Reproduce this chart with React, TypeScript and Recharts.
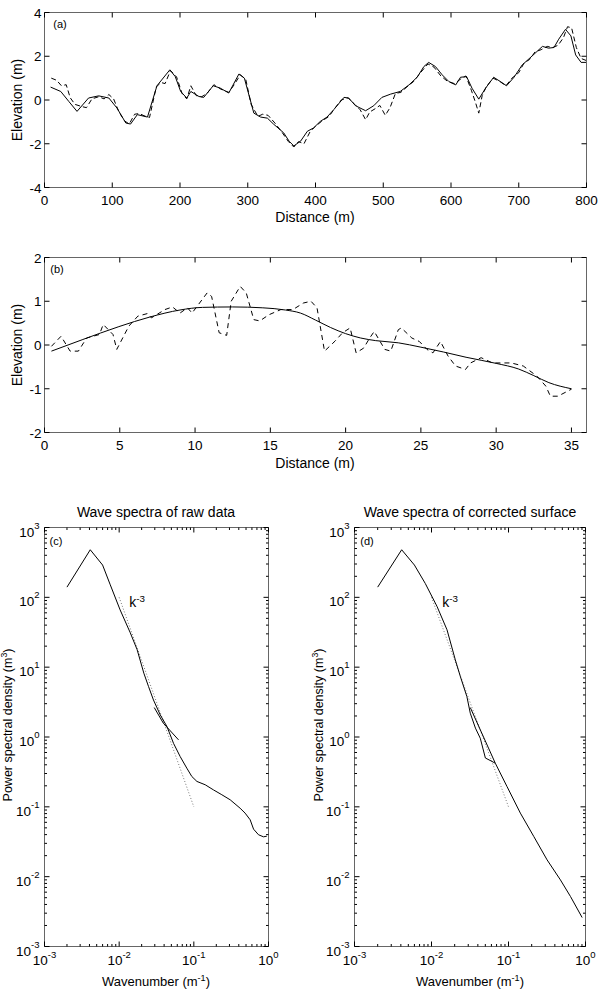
import React from "react";
import { LineChart, Line, XAxis, YAxis } from "recharts";

// (a) 800 m profile: solid = corrected surface, dashed = raw record
const longDist = [9, 24, 36, 48, 65, 80, 95, 107, 120, 127, 137, 152, 166, 185, 193, 201, 210, 216, 228, 235, 249, 259, 272, 287, 295, 309, 319, 329, 338, 353, 361, 368, 378, 388, 397, 407, 417, 427, 442, 449, 459, 474, 486, 498, 511, 525, 538, 550, 560, 567, 577, 587, 597, 607, 614, 623, 631, 641, 651, 663, 673, 682, 693, 705, 720, 735, 744, 752, 759, 769, 777, 784, 792, 800];
const longElev = [0.59, 0.39, -0.07, -0.52, 0.09, 0.19, 0.09, -0.37, -1.05, -1.1, -0.67, -0.78, 0.65, 1.38, 1.07, 0.39, 0.09, 0.39, 0.16, 0.12, 0.65, 0.55, 0.32, 1.19, 1.0, -0.6, -0.78, -0.83, -1.1, -1.5, -1.88, -2.1, -1.88, -1.43, -1.28, -0.98, -0.78, -0.44, 0.12, 0.09, -0.26, -0.49, -0.26, 0.12, 0.27, 0.39, 0.69, 1.04, 1.53, 1.72, 1.53, 1.15, 0.84, 0.69, 1.04, 1.07, 0.54, 0.04, 0.54, 1.04, 0.84, 0.65, 1.04, 1.6, 2.02, 2.45, 2.37, 2.4, 2.78, 3.23, 2.93, 2.06, 1.72, 1.72];
const longRawDist = [10, 18, 25, 32, 38, 45, 55, 62, 70, 80, 88, 95, 102, 110, 118, 125, 133, 140, 147, 155, 165, 172, 178, 186, 195, 203, 210, 216, 224, 232, 240, 250, 260, 272, 280, 289, 297, 305, 315, 322, 330, 340, 350, 360, 368, 375, 383, 392, 400, 410, 420, 428, 438, 448, 458, 466, 474, 480, 488, 495, 503, 510, 518, 526, 535, 545, 555, 566, 575, 585, 595, 605, 614, 622, 630, 636, 641, 646, 652, 662, 672, 681, 690, 700, 708, 716, 724, 733, 742, 750, 758, 766, 772, 778, 785, 792, 800];
const longRawElev = [1.0, 0.9, 0.65, 0.7, 0.1, -0.2, -0.3, -0.35, 0.05, 0.15, 0.05, 0.25, 0.05, -0.55, -0.95, -1.1, -0.65, -0.62, -0.72, -0.8, 0.6, 0.8, 0.75, 1.35, 1.05, 0.3, 0.05, 0.65, 0.2, 0.15, 0.3, 0.7, 0.5, 0.35, 0.7, 1.15, 0.95, -0.2, -0.75, -0.65, -0.7, -1.05, -1.45, -1.9, -2.15, -1.9, -2.0, -1.45, -1.2, -0.95, -0.75, -0.4, 0.0, 0.1, -0.2, -0.45, -0.9, -0.55, -0.4, -0.25, -0.7, -0.35, 0.3, 0.35, 0.6, 0.85, 1.25, 1.65, 1.5, 1.1, 0.85, 0.75, 0.95, 1.1, 0.45, -0.1, -0.6, 0.2, 0.6, 1.0, 0.85, 0.65, 1.0, 1.25, 1.7, 1.85, 2.2, 2.3, 2.45, 2.4, 2.5, 2.85, 3.35, 3.3, 2.4, 1.9, 1.8];

// (b) 35 m profile
const shortDist = [0.46, 2.5, 4.94, 7, 9, 10.5, 12.5, 14.5, 16, 17, 18, 19, 20, 21, 22, 23.5, 25, 26.5, 28, 30, 31.5, 32.5, 33.5, 35];
const shortElev = [-0.14, 0.12, 0.42, 0.64, 0.8, 0.86, 0.87, 0.85, 0.8, 0.73, 0.57, 0.4, 0.26, 0.16, 0.1, 0.05, -0.05, -0.16, -0.28, -0.42, -0.55, -0.7, -0.86, -1.0];
const shortRawDist = [0.46, 1.1, 1.7, 2.25, 2.8, 3.65, 3.9, 4.55, 4.8, 5.6, 6.2, 6.85, 7.1, 8.0, 8.5, 9.0, 9.5, 9.8, 10.3, 10.8, 11.1, 11.6, 12.1, 12.4, 13.0, 13.4, 13.9, 14.3, 14.9, 15.7, 16.5, 17.2, 17.7, 18.1, 18.6, 19.3, 19.8, 20.3, 20.7, 21.2, 21.6, 21.9, 22.6, 23.0, 23.5, 23.7, 24.4, 24.9, 25.4, 25.8, 26.3, 26.8, 27.3, 27.96, 28.3, 29.0, 29.75, 31.0, 31.8, 32.7, 33.3, 33.6, 34.1, 35.0];
const shortRawElev = [-0.03, 0.2, -0.14, -0.14, 0.16, 0.24, 0.47, 0.24, -0.1, 0.43, 0.66, 0.72, 0.62, 0.81, 0.87, 0.73, 0.85, 0.73, 0.96, 1.19, 1.11, 0.28, 0.22, 1.0, 1.34, 1.19, 0.58, 0.55, 0.69, 0.81, 0.81, 0.96, 1.0, 0.85, -0.14, 0.09, 0.28, 0.39, -0.18, -0.07, 0.16, 0.31, -0.1, -0.14, 0.35, 0.39, 0.16, 0.08, -0.1, -0.18, 0.08, -0.25, -0.48, -0.56, -0.41, -0.29, -0.41, -0.41, -0.48, -0.71, -0.94, -1.17, -1.17, -1.01];

// (c) spectrum of raw data
const rawK = [0.002, 0.0041, 0.006, 0.0076, 0.0103, 0.0141, 0.0174, 0.0214, 0.0247, 0.0288, 0.0355, 0.0437, 0.0535, 0.0656, 0.0805, 0.094, 0.11, 0.142, 0.183, 0.237, 0.307, 0.417, 0.486, 0.568, 0.631, 0.735, 0.857, 0.95];
const rawPsd = [140, 480, 290, 151, 66, 31, 17.8, 8.2, 5.3, 3.39, 2.07, 1.41, 0.81, 0.525, 0.358, 0.272, 0.231, 0.207, 0.175, 0.149, 0.126, 0.0955, 0.0813, 0.0652, 0.0479, 0.0398, 0.0372, 0.038];
const rawBranchK = [0.0295, 0.039, 0.0624];
const rawBranchPsd = [2.64, 1.58, 0.91];

// (d) spectrum of corrected surface
const corrK = [0.002, 0.0041, 0.006, 0.0083, 0.0118, 0.0159, 0.0204, 0.0237, 0.0288, 0.0319, 0.0372, 0.043, 0.0501, 0.0611, 0.0675, 0.0957, 0.1426, 0.213, 0.317, 0.472, 0.638, 0.904];
const corrPsd = [140, 480, 290, 158, 74, 34.3, 12.7, 7.35, 3.8, 2.19, 1.34, 0.96, 0.5, 0.447, 0.42, 0.195, 0.0813, 0.0376, 0.0174, 0.009, 0.0052, 0.0026];
const corrBranchK = [0.0319, 0.0675];
const corrBranchPsd = [2.64, 0.42];

// k^-3 reference
const slopeK = [0.01, 0.1];
const slopePsd = [100, 0.1];

const longDistTicks = [0, 100, 200, 300, 400, 500, 600, 700, 800];
const longElevTicks = [-4, -2, 0, 2, 4];
const shortDistTicks = [0, 5, 10, 15, 20, 25, 30, 35];
const shortElevTicks = [-2, -1, 0, 1, 2];
const kDecades = [0.001, 0.01, 0.1, 1];
const psdDecades = [0.001, 0.01, 0.1, 1, 10, 100, 1000];

const FONT = '"Liberation Sans", Arial, Helvetica, sans-serif';
const BOX = "#666";

const pts = (xs: number[], ys: number[]) => xs.map((x, i) => ({ x, y: ys[i] }));

const withMinor = (decades: number[]) =>
  decades.flatMap((d, i) =>
    i === decades.length - 1 ? [d] : [1, 2, 3, 4, 5, 6, 7, 8, 9].map((m) => m * d)
  );

const isDecade = (v: number) => {
  const e = Math.log10(v);
  return Math.abs(e - Math.round(e)) < 1e-6;
};

type Side = "bottom" | "left" | "top" | "right";

function tickFor(side: Side, log: boolean, labels: boolean) {
  return (props: any) => {
    const { x, y, payload } = props;
    const v = payload.value as number;
    const major = !log || isDecade(v);
    const len = major ? 5 : 2.5;
    let x2 = x;
    let y2 = y;
    if (side === "bottom") y2 = y - len;
    if (side === "top") y2 = y + len;
    if (side === "left") x2 = x + len;
    if (side === "right") x2 = x - len;

    let text: React.ReactNode = null;
    if (labels && major) {
      const style = { fontFamily: FONT, fontSize: 13.5, fill: "#000" };
      if (log) {
        const exp = Math.round(Math.log10(v));
        text =
          side === "bottom" ? (
            <text x={x} y={y + 18} textAnchor="middle" style={style}>
              10<tspan dy={-7} fontSize={9.5}>{exp}</tspan>
            </text>
          ) : (
            <text x={x - 5} y={y + 9} textAnchor="end" style={style}>
              10<tspan dy={-8} fontSize={9.5}>{exp}</tspan>
            </text>
          );
      } else {
        text =
          side === "bottom" ? (
            <text x={x} y={y + 17} textAnchor="middle" style={style}>{v}</text>
          ) : (
            <text x={x - 3} y={y + 5} textAnchor="end" style={style}>{v}</text>
          );
      }
    }
    return (
      <g>
        <line x1={x} y1={y} x2={x2} y2={y2} stroke="#000" strokeWidth={1} />
        {text}
      </g>
    );
  };
}

type Series = {
  data: { x: number; y: number }[];
  stroke?: string;
  dash?: string;
  curve?: "linear" | "monotone";
};

type PanelProps = {
  left: number;
  top: number;
  width: number;
  height: number;
  // plot-area box inside the chart
  margin: { top: number; right: number; bottom: number; left: number };
  xDomain: [number, number];
  yDomain: [number, number];
  xTicks: number[];
  yTicks: number[];
  log?: boolean;
  series: Series[];
};

function Panel(p: PanelProps) {
  const log = !!p.log;
  const scale = log ? "log" : "linear";
  const common = {
    type: "number" as const,
    scale: scale as any,
    allowDataOverflow: true,
    interval: 0 as const,
    tickSize: 0,
    tickMargin: 0,
    tickLine: false,
    axisLine: { stroke: BOX },
  };
  // every axis takes 1px, so the margins are shrunk by that amount
  const m = {
    top: p.margin.top - 1,
    right: p.margin.right - 1,
    bottom: p.margin.bottom - 1,
    left: p.margin.left - 1,
  };
  return (
    <div style={{ position: "absolute", left: p.left, top: p.top }}>
      <LineChart width={p.width} height={p.height} margin={m}>
        <XAxis xAxisId="b" dataKey="x" domain={p.xDomain} ticks={p.xTicks} height={1} {...common} tick={tickFor("bottom", log, true)} />
        <XAxis xAxisId="t" orientation="top" dataKey="x" domain={p.xDomain} ticks={p.xTicks} height={1} {...common} tick={tickFor("top", log, false)} />
        <YAxis yAxisId="l" domain={p.yDomain} ticks={p.yTicks} width={1} {...common} tick={tickFor("left", log, true)} />
        <YAxis yAxisId="r" orientation="right" domain={p.yDomain} ticks={p.yTicks} width={1} {...common} tick={tickFor("right", log, false)} />
        {p.series.map((s, i) => (
          <Line
            key={i}
            xAxisId="b"
            yAxisId="l"
            data={s.data}
            dataKey="y"
            type={s.curve ?? "linear"}
            stroke={s.stroke ?? "#000"}
            strokeWidth={1}
            strokeDasharray={s.dash}
            dot={false}
            activeDot={false}
            isAnimationActive={false}
          />
        ))}
      </LineChart>
    </div>
  );
}

function Txt({ x, y, size = 13.5, rotate, children }: { x: number; y: number; size?: number; rotate?: boolean; children: React.ReactNode }) {
  return (
    <div
      style={{
        position: "absolute",
        left: x,
        top: y,
        transform: `translate(-50%, -50%)${rotate ? " rotate(-90deg)" : ""}`,
        whiteSpace: "nowrap",
        fontFamily: FONT,
        fontSize: size,
        lineHeight: 1,
        color: "#000",
      }}
    >
      {children}
    </div>
  );
}

const sup = (s: string) => <sup style={{ fontSize: "0.7em", lineHeight: 0, verticalAlign: "0.55em" }}>{s}</sup>;

export default function App() {
  return (
    <div style={{ position: "absolute", left: 0, top: 0, width: 605, height: 991, background: "#fff", overflow: "hidden" }}>
      <Panel
        left={0}
        top={0}
        width={605}
        height={210}
        margin={{ top: 12.5, right: 18.5, bottom: 22.5, left: 44.5 }}
        xDomain={[0, 800]}
        yDomain={[-4, 4]}
        xTicks={longDistTicks}
        yTicks={longElevTicks}
        series={[
          { data: pts(longRawDist, longRawElev), dash: "5 3" },
          { data: pts(longDist, longElev) },
        ]}
      />
      <Panel
        left={0}
        top={240}
        width={605}
        height={215}
        margin={{ top: 17.5, right: 18.5, bottom: 22.5, left: 44.5 }}
        xDomain={[0, 36]}
        yDomain={[-2, 2]}
        xTicks={shortDistTicks}
        yTicks={shortElevTicks}
        series={[
          { data: pts(shortRawDist, shortRawElev), dash: "5 4" },
          { data: pts(shortDist, shortElev), curve: "monotone" },
        ]}
      />
      <Panel
        left={0}
        top={500}
        width={300}
        height={480}
        margin={{ top: 27.5, right: 31.5, bottom: 33.5, left: 44.5 }}
        xDomain={[0.001, 1]}
        yDomain={[0.001, 1000]}
        xTicks={withMinor(kDecades)}
        yTicks={withMinor(psdDecades)}
        log
        series={[
          { data: pts(slopeK, slopePsd), stroke: "#777", dash: "1 2" },
          { data: pts(rawK, rawPsd) },
          { data: pts(rawBranchK, rawBranchPsd) },
        ]}
      />
      <Panel
        left={300}
        top={500}
        width={305}
        height={480}
        margin={{ top: 27.5, right: 19.5, bottom: 33.5, left: 54.5 }}
        xDomain={[0.001, 1]}
        yDomain={[0.001, 1000]}
        xTicks={withMinor(kDecades)}
        yTicks={withMinor(psdDecades)}
        log
        series={[
          { data: pts(slopeK, slopePsd), stroke: "#777", dash: "1 2" },
          { data: pts(corrK, corrPsd) },
          { data: pts(corrBranchK, corrBranchPsd) },
        ]}
      />

      <Txt x={60} y={24} size={11}>(a)</Txt>
      <Txt x={315} y={217} size={14}>Distance (m)</Txt>
      <Txt x={17} y={100} size={14} rotate>Elevation (m)</Txt>

      <Txt x={57} y={269} size={11}>(b)</Txt>
      <Txt x={315} y={463} size={14}>Distance (m)</Txt>
      <Txt x={17} y={345} size={14} rotate>Elevation (m)</Txt>

      <Txt x={156} y={512} size={14}>Wave spectra of raw data</Txt>
      <Txt x={470} y={512} size={14}>Wave spectra of corrected surface</Txt>
      <Txt x={56} y={541} size={11}>(c)</Txt>
      <Txt x={367} y={541} size={11}>(d)</Txt>
      <Txt x={137} y={602} size={14}>k{sup("-3")}</Txt>
      <Txt x={450} y={602} size={14}>k{sup("-3")}</Txt>
      <Txt x={156} y={981} size={13}>Wavenumber (m{sup("-1")})</Txt>
      <Txt x={470} y={981} size={13}>Wavenumber (m{sup("-1")})</Txt>
      <Txt x={8} y={725} size={12.5} rotate>Power spectral density (m{sup("3")})</Txt>
      <Txt x={319} y={725} size={12.5} rotate>Power spectral density (m{sup("3")})</Txt>
    </div>
  );
}
